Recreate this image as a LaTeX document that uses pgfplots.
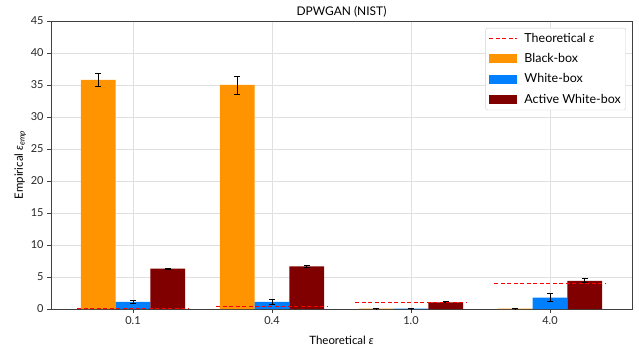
\documentclass[border=0pt]{standalone}
\usepackage{fontspec}
\setmainfont{Lato}
\usepackage{pgfplots}
\usetikzlibrary{calc}
\pgfplotsset{compat=1.18}
\definecolor{cOrange}{RGB}{255,148,0}
\definecolor{cBlue}{RGB}{0,128,255}
\definecolor{cDark}{RGB}{128,0,0}
\definecolor{cGrid}{RGB}{224,224,224}
\definecolor{cRed}{RGB}{255,0,0}
\begin{document}
\fontsize{11.5}{13.5}\selectfont
\begin{tikzpicture}
\begin{axis}[
  scale only axis,
  width=581bp, height=288bp,
  xmin=-0.59, xmax=3.59,
  ymin=0, ymax=45,
  xtick={0,1,2,3},
  xticklabels={0.1,0.4,1.0,4.0},
  ytick={0,5,10,15,20,25,30,35,40,45},
  /pgf/number format/assume math mode=true,
  tick label style={font=\fontsize{11}{12}\selectfont, text=black!85},
  xmajorgrids, ymajorgrids,
  grid style={cGrid, line width=0.8pt},
  axis line style={black!75, line width=0.8pt},
  tick style={black!75, line width=0.8pt},
  tick align=outside,
  major tick length=3.5bp,
  xtick pos=bottom, ytick pos=left,
  title={DPWGAN (NIST)},
  title style={yshift=-6bp, font=\fontsize{12}{14}\selectfont},
  xlabel={Theoretical \textit{ε}},
  ylabel={Empirical \textit{ε}\textsubscript{\textit{emp}}},
  xlabel style={yshift=-4bp},
  ylabel style={yshift=-3bp},
  legend cell align=left,
  legend style={at={(0.9895,0.976)}, anchor=north east, draw=black!18, rounded corners=2pt, fill=white, font=\fontsize{12.5}{14}\selectfont, row sep=5.5pt, inner sep=3pt},
  legend image code/.code={\path[#1, sharp corners, draw=none] (0bp,-4.5bp) rectangle (28bp,4.5bp); \path (33bp,0bp);},
]
\coordinate (ll) at (rel axis cs:0,0);
\coordinate (ur) at (rel axis cs:1,1);
\addlegendimage{legend image code/.code={\draw[cRed, dash pattern=on 4bp off 2.5bp, line width=1.2pt] (0bp,0bp) -- (28bp,0bp); \path (33bp,0bp);}}
\addlegendentry{Theoretical \textit{ε}}
\addlegendimage{fill=cOrange}
\addlegendentry{Black-box}
\addlegendimage{fill=cBlue}
\addlegendentry{White-box}
\addlegendimage{fill=cDark}
\addlegendentry{Active White-box}

\addplot[forget plot, ybar, bar width=0.25, bar shift=0, fill=cOrange, draw=none, draw opacity=0,
  error bars/.cd, y dir=both, y explicit, error bar style={black, line width=0.9pt, draw opacity=1}, error mark options={black, rotate=90, mark size=3bp, line width=0.9pt, draw opacity=1}]
  coordinates {(-0.25,35.8) +- (0,1.0) (0.75,35.0) +- (0,1.4) (1.75,0.05) +- (0,0.03) (2.75,0.05) +- (0,0.03)};
\addplot[forget plot, ybar, bar width=0.25, bar shift=0, fill=cBlue, draw=none, draw opacity=0,
  error bars/.cd, y dir=both, y explicit, error bar style={black, line width=0.9pt, draw opacity=1}, error mark options={black, rotate=90, mark size=3bp, line width=0.9pt, draw opacity=1}]
  coordinates {(0,1.12) +- (0,0.25) (1,1.1) +- (0,0.35) (2,0.05) +- (0,0.03) (3,1.77) +- (0,0.6)};
\addplot[forget plot, ybar, bar width=0.25, bar shift=0, fill=cDark, draw=none, draw opacity=0,
  error bars/.cd, y dir=both, y explicit, error bar style={black, line width=0.9pt, draw opacity=1}, error mark options={black, rotate=90, mark size=3bp, line width=0.9pt, draw opacity=1}]
  coordinates {(0.25,6.3) +- (0,0.08) (1.25,6.65) +- (0,0.08) (2.25,1.05) +- (0,0.08) (3.25,4.4) +- (0,0.3)};

\addplot[forget plot, cRed, dash pattern=on 4bp off 2.5bp, line width=1.3pt, mark=none]
  coordinates {(2.6,4.02) (3.4,4.02)};
\addplot[forget plot, cRed, dash pattern=on 4bp off 2.5bp, line width=1.2pt, mark=none]
  coordinates {(-0.4,0.1) (0.4,0.1)};
\addplot[forget plot, cRed, dash pattern=on 4bp off 2.5bp, line width=1.2pt, mark=none]
  coordinates {(0.6,0.4) (1.4,0.4)};
\addplot[forget plot, cRed, dash pattern=on 4bp off 2.5bp, line width=1.2pt, mark=none]
  coordinates {(1.6,1.0) (2.4,1.0)};
\end{axis}
\pgfresetboundingbox
\path[use as bounding box] ($(ll)+(-51bp,-40bp)$) rectangle ($(ur)+(7bp,21bp)$);
\end{tikzpicture}
\end{document}
